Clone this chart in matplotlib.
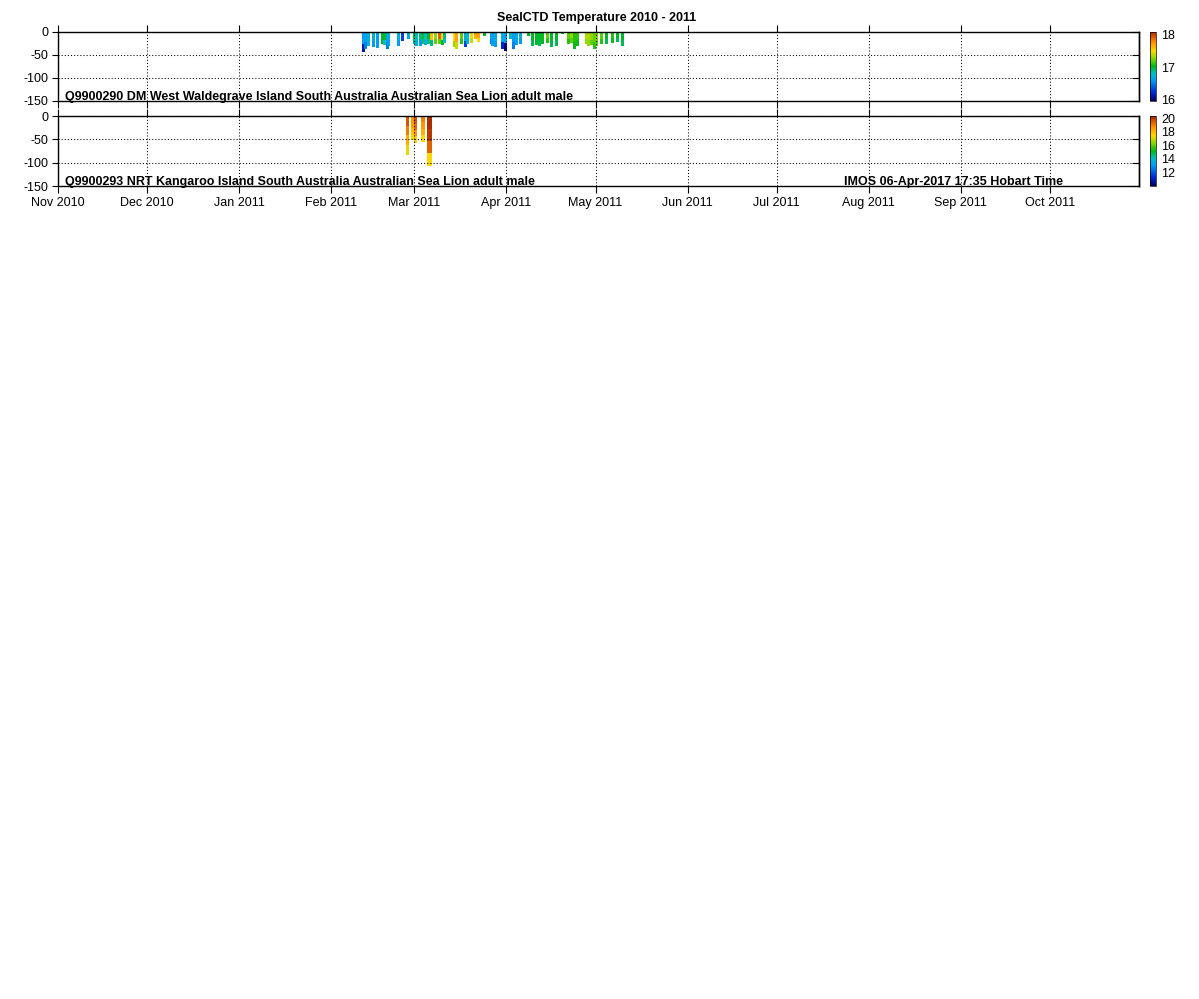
import numpy as np
import matplotlib
matplotlib.use('Agg')
import matplotlib.pyplot as plt
import matplotlib.dates as mdates
from matplotlib import cm, colors

plt.rcParams['font.family'] = ['Liberation Sans', 'DejaVu Sans']
plt.rcParams['axes.unicode_minus'] = False

START = '2010-11-01'
END = '2011-10-31'
month_ticks = ['2010-11-01', '2010-12-01', '2011-01-01', '2011-02-01', '2011-03-01',
               '2011-04-01', '2011-05-01', '2011-06-01', '2011-07-01', '2011-08-01',
               '2011-09-01', '2011-10-01']
month_labels = ['Nov 2010', 'Dec 2010', 'Jan 2011', 'Feb 2011', 'Mar 2011', 'Apr 2011',
                'May 2011', 'Jun 2011', 'Jul 2011', 'Aug 2011', 'Sep 2011', 'Oct 2011']
depth_ticks = [-150, -100, -50, 0]

# Q9900290 - days since 1 Nov 2010, max depth (m), temperature upper / lower part
top_day = [102.9, 103.6, 104.4, 106.3, 107.7, 109.4, 110.0, 110.9, 111.4, 114.5,
           116.1, 118.1, 120.1, 120.7, 122.1, 122.9, 123.7, 124.8, 125.7, 127.0,
           128.6, 129.3, 130.2, 133.5, 134.2, 136.0, 137.2, 138.0, 139.2, 140.6,
           141.6, 143.6, 145.9, 146.2, 147.3, 149.8, 150.7, 152.3, 153.4, 154.5,
           155.6, 158.5, 159.9, 161.0, 162.1, 163.0, 164.9, 166.1, 167.7, 169.8,
           172.0, 172.8, 173.9, 175.0, 177.8, 178.7, 179.5, 180.6, 181.4, 182.9,
           184.6, 186.8, 188.5, 190.1]
top_depth = [45, 37, 32, 34, 35, 27, 30, 37, 32, 32,
             20, 16, 27, 32, 32, 27, 30, 27, 32, 27,
             27, 29, 24, 34, 37, 27, 34, 27, 24, 16,
             22, 10, 27, 32, 34, 37, 42, 15, 37, 30,
             27, 10, 32, 30, 32, 27, 24, 34, 32, 5,
             27, 24, 37, 32, 27, 32, 30, 37, 32, 27,
             27, 24, 22, 32]
top_temp_upper = [16.6, 16.6, 16.7, 16.7, 16.6, 17.0, 17.0, 16.6, 16.7, 16.7,
                  16.3, 16.7, 17.0, 16.8, 16.9, 17.0, 16.8, 17.0, 17.6, 17.3,
                  17.9, 17.5, 16.9, 17.5, 17.7, 17.2, 16.7, 16.8, 17.5, 17.7,
                  17.7, 17.0, 16.6, 16.6, 16.7, 16.7, 16.6, 16.8, 16.6, 16.7,
                  16.7, 17.0, 17.0, 17.0, 17.0, 17.05, 17.2, 17.0, 17.0, 17.0,
                  17.2, 17.3, 17.1, 17.1, 17.35, 17.35, 17.3, 17.2, 17.25, 17.2,
                  17.0, 17.1, 17.0, 17.0]
top_temp_lower = [16.1, 16.5, 16.7, 16.6, 16.6, 17.0, 16.8, 16.5, 16.6, 16.6,
                  16.3, 16.7, 16.9, 16.7, 16.6, 16.9, 16.7, 16.9, 16.9, 17.2,
                  17.2, 17.0, 16.8, 17.3, 17.4, 17.1, 16.3, 16.7, 17.4, 17.6,
                  17.5, 17.0, 16.5, 16.6, 16.6, 16.2, 16.0, 16.7, 16.5, 16.6,
                  16.6, 17.0, 16.95, 17.0, 16.95, 17.0, 17.1, 16.95, 16.95, 17.0,
                  17.1, 17.2, 17.05, 17.05, 17.3, 17.3, 17.2, 17.1, 17.2, 17.1,
                  16.95, 17.05, 16.95, 16.95]

# Q9900293 - days since 1 Nov 2010, strip width (days), max depth (m), temps top->bottom
bot_day = [117.6, 119.4, 120.4, 123.0, 125.0]
bot_width = [1.1, 0.9, 1.1, 1.3, 1.8]
bot_depth = [83, 51, 58, 55, 107]
bot_temps = [[19.5, 19.0, 18.2, 17.2],
             [18.6, 18.4, 17.9, 17.3],
             [19.6, 19.2, 18.6, 17.6],
             [18.9, 18.6, 18.1, 17.4],
             [20.2, 20.0, 19.3, 17.4]]

top_range = (15.95, 18.1)
bot_range = (10.0, 20.3)
top_cticks = [16, 17, 18]
bot_cticks = [12, 14, 16, 18, 20]

t0 = mdates.date2num(np.datetime64(START))
cmap = colors.LinearSegmentedColormap.from_list('seal', [
    (0.00, (0.00, 0.00, 0.35)),
    (0.12, (0.00, 0.15, 0.85)),
    (0.30, (0.00, 0.62, 0.95)),
    (0.40, (0.00, 0.75, 0.75)),
    (0.50, (0.00, 0.72, 0.10)),
    (0.62, (0.55, 0.85, 0.00)),
    (0.72, (1.00, 0.85, 0.00)),
    (0.85, (1.00, 0.55, 0.00)),
    (1.00, (0.65, 0.15, 0.00)),
])
DOT = (0, (1, 2))


def style_axes(ax, show_xlabels):
    ax.set_xlim(mdates.date2num(np.datetime64(START)), mdates.date2num(np.datetime64(END)))
    ax.set_ylim(-150, 0)
    ax.set_xticks(mdates.date2num(np.array(month_ticks, dtype='datetime64[D]')))
    ax.set_yticks(depth_ticks)
    ax.set_yticklabels([str(v) for v in depth_ticks])
    if show_xlabels:
        ax.set_xticklabels(month_labels)
    else:
        ax.set_xticklabels([])
    ax.grid(True, color='black', linestyle=DOT, linewidth=0.75)
    ax.set_axisbelow(False)
    ax.tick_params(axis='x', which='both', top=True, bottom=True, direction='out',
                   length=5, width=0.8, labelsize=9, pad=3)
    ax.tick_params(axis='y', left=True, right=False, direction='out', length=4,
                   width=0.8, labelsize=9, pad=3)
    # right-hand ticks point inwards
    sec = ax.secondary_yaxis('right')
    sec.set_yticks(depth_ticks)
    sec.tick_params(direction='in', length=5, width=0.8, labelright=False)
    sec.spines['right'].set_linewidth(1.0)
    for s in ax.spines.values():
        s.set_linewidth(1.0)


def add_cbar(fig, rect, vrange, ticks):
    cax = fig.add_axes(rect)
    sm = cm.ScalarMappable(norm=colors.Normalize(*vrange), cmap=cmap)
    cb = fig.colorbar(sm, cax=cax)
    cb.set_ticks(ticks)
    cb.outline.set_linewidth(0.5)
    cax.tick_params(length=0, labelsize=9, pad=4)
    return cb


fig = plt.figure(figsize=(11.99, 9.99), dpi=100)

ax1 = fig.add_axes([0.0484, 0.8989, 0.9016, 0.0695])
ax2 = fig.add_axes([0.0484, 0.8138, 0.9016, 0.0700])

norm1 = colors.Normalize(*top_range)
for d, dep, tu, tl in zip(top_day, top_depth, top_temp_upper, top_temp_lower):
    ax1.bar(t0 + d, -dep * 0.6, width=1.0, bottom=0, color=cmap(norm1(tu)), linewidth=0)
    ax1.bar(t0 + d, -dep * 0.4, width=1.0, bottom=-dep * 0.6, color=cmap(norm1(tl)), linewidth=0)

norm2 = colors.Normalize(*bot_range)
for d, w, dep, temps in zip(bot_day, bot_width, bot_depth, bot_temps):
    seg = dep / len(temps)
    for i, t in enumerate(temps):
        ax2.bar(t0 + d, -seg, width=w, bottom=-seg * i, color=cmap(norm2(t)), linewidth=0)

style_axes(ax1, False)
style_axes(ax2, True)

ax1.text(0.006, 0.015, 'Q9900290 DM West Waldegrave Island South Australia Australian Sea Lion adult male',
         transform=ax1.transAxes, fontsize=9, fontweight='bold', va='baseline', ha='left')
ax2.text(0.006, 0.015, 'Q9900293 NRT Kangaroo Island South Australia Australian Sea Lion adult male',
         transform=ax2.transAxes, fontsize=9, fontweight='bold', va='baseline', ha='left')
ax2.text(0.828, 0.015, 'IMOS 06-Apr-2017 17:35 Hobart Time',
         transform=ax2.transAxes, fontsize=9, fontweight='bold', va='baseline', ha='center')

add_cbar(fig, [0.9591, 0.8989, 0.005, 0.0695], top_range, top_cticks)
add_cbar(fig, [0.9591, 0.8138, 0.005, 0.0700], bot_range, bot_cticks)

fig.text(0.498, 0.982, 'SealCTD Temperature 2010 - 2011', fontsize=9, fontweight='bold',
         ha='center', va='center')

fig.savefig('out.png', dpi=100)
